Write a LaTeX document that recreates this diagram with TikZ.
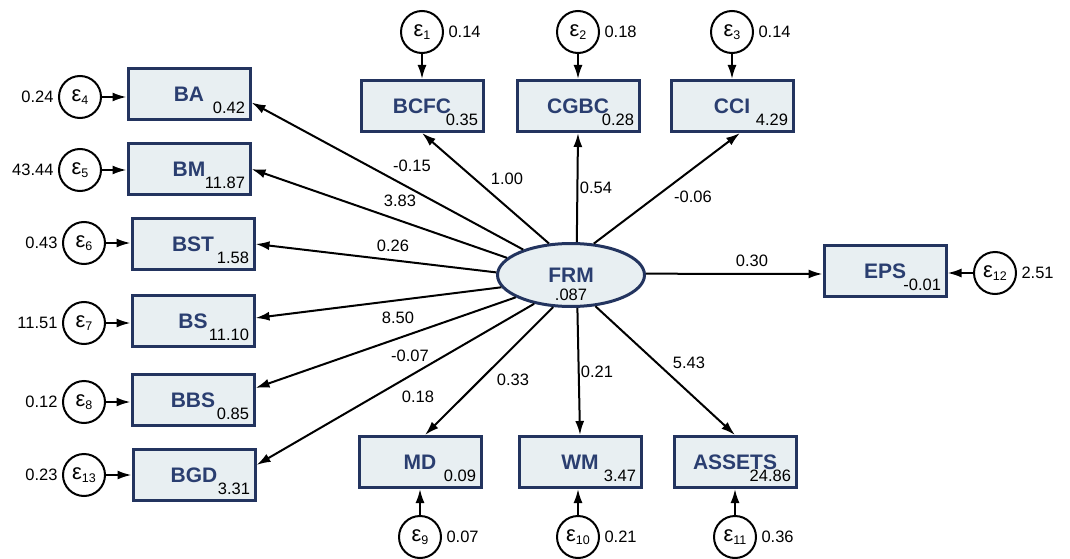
\documentclass[tikz,border=0pt]{standalone}
\usepackage{fontspec}
\setmainfont{Liberation Sans}
\usetikzlibrary{arrows.meta,shapes}

\definecolor{semnavy}{RGB}{35,52,95}
\definecolor{semtext}{RGB}{42,62,112}
\definecolor{semfill}{RGB}{232,239,242}

\newcommand{\errlab}[1]{{\fontsize{22}{22}\selectfont ε}\raisebox{-2.5pt}{\fontsize{12.5}{12.5}\selectfont #1}}

\begin{document}
\begin{tikzpicture}[x=1pt, y=-1pt,
    every node/.style={font=\fontsize{16.5}{18}\selectfont},
    obsbox/.style={rectangle, draw=semnavy, line width=3pt, fill=semfill,
        minimum width=122pt, minimum height=51pt, text=semtext,
        font=\fontsize{21}{24}\selectfont\bfseries},
    latent/.style={ellipse, draw=semnavy, line width=3pt, fill=semfill,
        minimum width=147pt, minimum height=63pt, inner sep=0pt, text=semtext,
        font=\fontsize{21}{24}\selectfont\bfseries},
    errcirc/.style={circle, draw=black, line width=2pt, minimum size=42pt, inner sep=0pt},
    sempath/.style={line width=2pt, -{Latex[length=14pt,width=9pt]}}]
    \useasboundingbox (0,0) rectangle (1070,559);

    \node[latent] (FRM) at (571,275) {FRM};
    \node[anchor=base] (FRMi) at (571,300) {.087};

    \node[obsbox] (BA) at (189,94.5) {BA};
    \node[obsbox] (BM) at (189,169) {BM};
    \node[obsbox] (BST) at (193,244) {BST};
    \node[obsbox] (BS) at (193,321) {BS};
    \node[obsbox] (BBS) at (193,400) {BBS};
    \node[obsbox] (BGD) at (194,475) {BGD};
    \node[obsbox] (BCFC) at (422,106) {BCFC};
    \node[obsbox] (CGBC) at (578,106) {CGBC};
    \node[obsbox] (CCI) at (732,106) {CCI};
    \node[obsbox] (MD) at (420,462) {MD};
    \node[obsbox] (WM) at (580,462) {WM};
    \node[obsbox] (ASSETS) at (735,462) {ASSETS};
    \node[obsbox] (EPS) at (885,271) {EPS};

    \node[anchor=base east, xshift=-3pt, yshift=8pt] (BAi) at (BA.south east) {0.42};
    \node[anchor=base east, xshift=-3pt, yshift=8pt] (BMi) at (BM.south east) {11.87};
    \node[anchor=base east, xshift=-3pt, yshift=8pt] (BSTi) at (BST.south east) {1.58};
    \node[anchor=base east, xshift=-3pt, yshift=8pt] (BSi) at (BS.south east) {11.10};
    \node[anchor=base east, xshift=-3pt, yshift=8pt] (BBSi) at (BBS.south east) {0.85};
    \node[anchor=base east, xshift=-3pt, yshift=8pt] (BGDi) at (BGD.south east) {3.31};
    \node[anchor=base east, xshift=-3pt, yshift=8pt] (BCFCi) at (BCFC.south east) {0.35};
    \node[anchor=base east, xshift=-3pt, yshift=8pt] (CGBCi) at (CGBC.south east) {0.28};
    \node[anchor=base east, xshift=-3pt, yshift=8pt] (CCIi) at (CCI.south east) {4.29};
    \node[anchor=base east, xshift=-3pt, yshift=8pt] (MDi) at (MD.south east) {0.09};
    \node[anchor=base east, xshift=-3pt, yshift=8pt] (WMi) at (WM.south east) {3.47};
    \node[anchor=base east, xshift=-3pt, yshift=8pt] (ASSETSi) at (ASSETS.south east) {24.86};
    \node[anchor=base east, xshift=-3pt, yshift=8pt] (EPSi) at (EPS.south east) {-0.01};

    \node[errcirc] (e1) at (422,32) {\errlab{1}};
    \node[errcirc] (e2) at (578,32) {\errlab{2}};
    \node[errcirc] (e3) at (732,32) {\errlab{3}};
    \node[errcirc] (e4) at (80,97) {\errlab{4}};
    \node[errcirc] (e5) at (80,170) {\errlab{5}};
    \node[errcirc] (e6) at (84,243) {\errlab{6}};
    \node[errcirc] (e7) at (84,323) {\errlab{7}};
    \node[errcirc] (e8) at (84,402) {\errlab{8}};
    \node[errcirc] (e13) at (84,475) {\errlab{13}};
    \node[errcirc] (e9) at (420,537) {\errlab{9}};
    \node[errcirc] (e10) at (578,537) {\errlab{10}};
    \node[errcirc] (e11) at (735,537) {\errlab{11}};
    \node[errcirc] (e12) at (995,273) {\errlab{12}};

    \node[anchor=west, xshift=1pt] (e1v) at (e1.east) {0.14};
    \node[anchor=west, xshift=1pt] (e2v) at (e2.east) {0.18};
    \node[anchor=west, xshift=1pt] (e3v) at (e3.east) {0.14};
    \node[anchor=east, xshift=-1pt] (e4v) at (e4.west) {0.24};
    \node[anchor=east, xshift=-1pt] (e5v) at (e5.west) {43.44};
    \node[anchor=east, xshift=-1pt] (e6v) at (e6.west) {0.43};
    \node[anchor=east, xshift=-1pt] (e7v) at (e7.west) {11.51};
    \node[anchor=east, xshift=-1pt] (e8v) at (e8.west) {0.12};
    \node[anchor=east, xshift=-1pt] (e13v) at (e13.west) {0.23};
    \node[anchor=west, xshift=1pt] (e9v) at (e9.east) {0.07};
    \node[anchor=west, xshift=1pt] (e10v) at (e10.east) {0.21};
    \node[anchor=west, xshift=1pt] (e11v) at (e11.east) {0.36};
    \node[anchor=west, xshift=1pt] (e12v) at (e12.east) {2.51};

    \draw[sempath] (e1) -- (e1 |- BCFC.north);
    \draw[sempath] (e2) -- (e2 |- CGBC.north);
    \draw[sempath] (e3) -- (e3 |- CCI.north);
    \draw[sempath] (e4) -- (e4 -| BA.west);
    \draw[sempath] (e5) -- (e5 -| BM.west);
    \draw[sempath] (e6) -- (e6 -| BST.west);
    \draw[sempath] (e7) -- (e7 -| BS.west);
    \draw[sempath] (e8) -- (e8 -| BBS.west);
    \draw[sempath] (e13) -- (e13 -| BGD.west);
    \draw[sempath] (e9) -- (e9 |- MD.south);
    \draw[sempath] (e10) -- (e10 |- WM.south);
    \draw[sempath] (e11) -- (e11 |- ASSETS.south);
    \draw[sempath] (e12) -- (e12 -| EPS.east);

    \draw[sempath] (FRM.152) -- ([yshift=-8pt]BA.east);
    \draw[sempath] (FRM.165) -- (BM.east);
    \draw[sempath] (FRM.178) -- (BST.east);
    \draw[sempath] (FRM.190) -- ([yshift=3pt]BS.east);
    \draw[sempath] (FRM.202) -- ([yshift=12pt]BBS.east);
    \draw[sempath] (FRM.218) -- ([yshift=10pt]BGD.east);
    \draw[sempath] (FRM.125) -- (BCFC.south);
    \draw[sempath] (FRM.80) -- (CGBC.south);
    \draw[sempath] (FRM.54) -- ([xshift=8pt]CCI.south);
    \draw[sempath] (FRM.1) -- ([yshift=-3pt]EPS.west);
    \draw[sempath] (FRM.241) -- ([xshift=5pt]MD.north);
    \draw[sempath] (FRM.281) -- (WM.north);
    \draw[sempath] (FRM.308) -- (ASSETS.north);

    \node (cBA) at (412,166) {-0.15};
    \node (cBM) at (400,201) {3.83};
    \node (cBST) at (393,246) {0.26};
    \node (cBS) at (398,318) {8.50};
    \node (cBBS) at (410,356) {-0.07};
    \node (cBGD) at (418,397) {0.18};
    \node (cBCFC) at (507,179) {1.00};
    \node (cCGBC) at (596,188) {0.54};
    \node (cCCI) at (693,197) {-0.06};
    \node (cEPS) at (752,261) {0.30};
    \node (cMD) at (513,380) {0.33};
    \node (cWM) at (597,372) {0.21};
    \node (cASSETS) at (689,363) {5.43};
\end{tikzpicture}
\end{document}
